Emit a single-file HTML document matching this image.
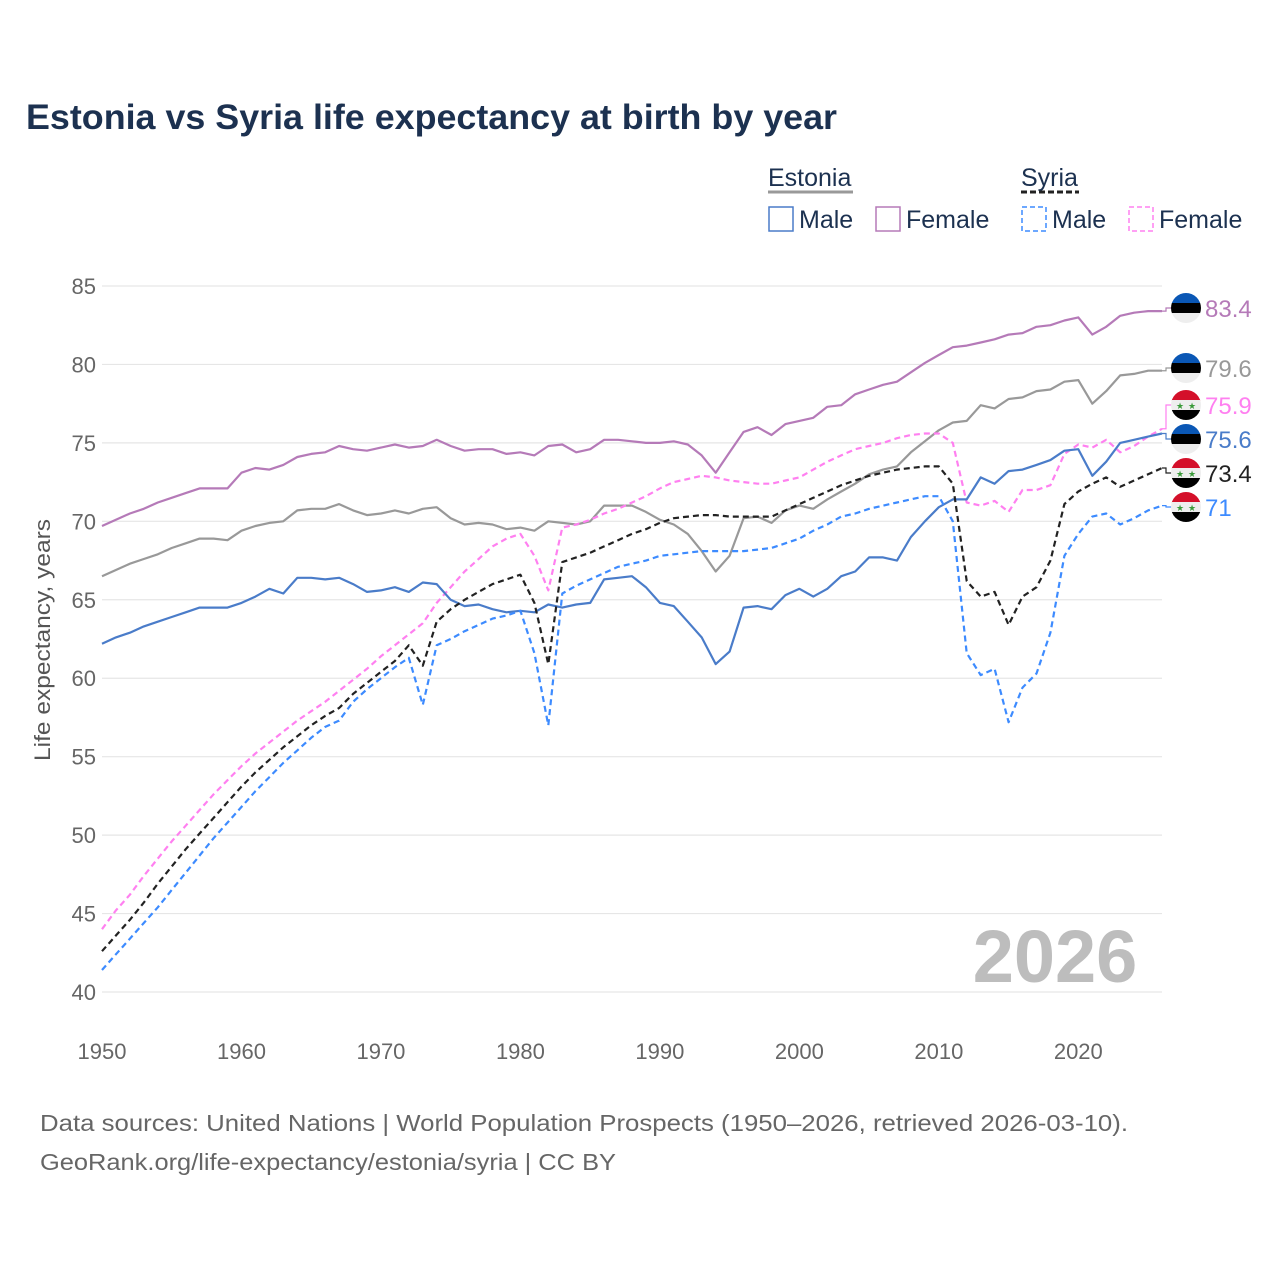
<!DOCTYPE html>
<html><head><meta charset="utf-8">
<style>
body{margin:0;background:#fff;font-family:"Liberation Sans",sans-serif;}
svg text{font-family:"Liberation Sans",sans-serif;}
</style></head>
<body>
<svg id="chart" width="1280" height="1280" xmlns="http://www.w3.org/2000/svg">
<rect width="1280" height="1280" fill="#fff"/>
<text x="26" y="129" font-size="35" font-weight="bold" fill="#1c3150" textLength="811" lengthAdjust="spacingAndGlyphs">Estonia vs Syria life expectancy at birth by year</text>
<g font-size="25" fill="#1c3150">
<text x="768" y="186" fill="#1c3150">Estonia</text>
<line x1="768" y1="192" x2="853" y2="192" stroke="#999" stroke-width="3"/>
<text x="1021" y="186" fill="#1c3150">Syria</text>
<line x1="1021" y1="192" x2="1079" y2="192" stroke="#222" stroke-width="3" stroke-dasharray="6,3"/>
<g><rect x="769" y="207" width="24" height="24" fill="none" stroke="#4a7cc9" stroke-width="1.5"/><text x="799" y="228">Male</text></g>
<g><rect x="876" y="207" width="24" height="24" fill="none" stroke="#b57ab8" stroke-width="1.5"/><text x="906" y="228">Female</text></g>
<g><rect x="1022" y="207" width="24" height="24" fill="none" stroke="#3d8bff" stroke-width="1.5" stroke-dasharray="5,3"/><text x="1052" y="228">Male</text></g>
<g><rect x="1129" y="207" width="24" height="24" fill="none" stroke="#ff80f0" stroke-width="1.5" stroke-dasharray="5,3"/><text x="1159" y="228">Female</text></g>
</g>
<g id="grid"></g>
<text x="1055" y="982" font-size="74" font-weight="bold" fill="#bdbdbd" text-anchor="middle">2026</text>
<g id="series"></g>
<g id="labels"></g>
<text transform="translate(50,640) rotate(-90)" font-size="22" fill="#555" text-anchor="middle" textLength="242" lengthAdjust="spacingAndGlyphs">Life expectancy, years</text>
<text x="40" y="1131" font-size="23" fill="#666" textLength="1088" lengthAdjust="spacingAndGlyphs">Data sources: United Nations | World Population Prospects (1950–2026, retrieved 2026-03-10).</text>
<text x="40" y="1170" font-size="23" fill="#666" textLength="576" lengthAdjust="spacingAndGlyphs">GeoRank.org/life-expectancy/estonia/syria | CC BY</text>
</svg>
<script>
const years=[];for(let y=1950;y<=2026;y++)years.push(y);
const yTicks=[40,45,50,55,60,65,70,75,80,85];
const xTicks=[1950,1960,1970,1980,1990,2000,2010,2020];
const estoniaFemale=[69.7,70.1,70.5,70.8,71.2,71.5,71.8,72.1,72.1,72.1,73.1,73.4,73.3,73.6,74.1,74.3,74.4,74.8,74.6,74.5,74.7,74.9,74.7,74.8,75.2,74.8,74.5,74.6,74.6,74.3,74.4,74.2,74.8,74.9,74.4,74.6,75.2,75.2,75.1,75.0,75.0,75.1,74.9,74.2,73.1,74.4,75.7,76.0,75.5,76.2,76.4,76.6,77.3,77.4,78.1,78.4,78.7,78.9,79.5,80.1,80.6,81.1,81.2,81.4,81.6,81.9,82.0,82.4,82.5,82.8,83.0,81.9,82.4,83.1,83.3,83.4,83.4];
const estoniaTotal=[66.5,66.9,67.3,67.6,67.9,68.3,68.6,68.9,68.9,68.8,69.4,69.7,69.9,70.0,70.7,70.8,70.8,71.1,70.7,70.4,70.5,70.7,70.5,70.8,70.9,70.2,69.8,69.9,69.8,69.5,69.6,69.4,70.0,69.9,69.8,70.0,71.0,71.0,71.0,70.6,70.1,69.8,69.2,68.1,66.8,67.8,70.2,70.3,69.9,70.7,71.0,70.8,71.4,71.9,72.4,73.0,73.3,73.5,74.4,75.1,75.8,76.3,76.4,77.4,77.2,77.8,77.9,78.3,78.4,78.9,79.0,77.5,78.3,79.3,79.4,79.6,79.6];
const estoniaMale=[62.2,62.6,62.9,63.3,63.6,63.9,64.2,64.5,64.5,64.5,64.8,65.2,65.7,65.4,66.4,66.4,66.3,66.4,66.0,65.5,65.6,65.8,65.5,66.1,66.0,65.0,64.6,64.7,64.4,64.2,64.3,64.2,64.7,64.5,64.7,64.8,66.3,66.4,66.5,65.8,64.8,64.6,63.6,62.6,60.9,61.7,64.5,64.6,64.4,65.3,65.7,65.2,65.7,66.5,66.8,67.7,67.7,67.5,69.0,70.0,70.9,71.4,71.4,72.8,72.4,73.2,73.3,73.6,73.9,74.5,74.6,72.9,73.8,75.0,75.2,75.4,75.6];
const syriaFemale=[44.0,45.2,46.2,47.4,48.5,49.6,50.6,51.6,52.6,53.5,54.4,55.2,55.9,56.6,57.3,57.9,58.5,59.2,59.9,60.6,61.4,62.1,62.8,63.5,64.8,65.8,66.8,67.6,68.4,68.9,69.2,67.8,65.6,69.6,69.8,70.1,70.5,70.8,71.2,71.6,72.1,72.5,72.7,72.9,72.8,72.6,72.5,72.4,72.4,72.6,72.8,73.3,73.8,74.2,74.6,74.8,75.0,75.3,75.5,75.6,75.6,75.0,71.2,71.0,71.3,70.6,72.0,72.0,72.3,74.3,74.9,74.7,75.2,74.4,74.8,75.4,75.9];
const syriaTotal=[42.6,43.6,44.6,45.7,46.9,48.0,49.1,50.1,51.1,52.1,53.1,54.0,54.8,55.6,56.3,57.0,57.6,58.1,59.0,59.7,60.4,61.1,62.1,60.8,63.6,64.4,65.0,65.5,66.0,66.3,66.6,64.8,60.9,67.4,67.7,68.0,68.4,68.8,69.2,69.5,69.9,70.2,70.3,70.4,70.4,70.3,70.3,70.3,70.3,70.7,71.1,71.5,71.9,72.3,72.6,72.9,73.1,73.3,73.4,73.5,73.5,72.4,66.2,65.2,65.5,63.4,65.2,65.8,67.5,71.1,71.9,72.4,72.8,72.2,72.6,73.0,73.4];
const syriaMale=[41.4,42.4,43.4,44.4,45.4,46.5,47.6,48.7,49.8,50.8,51.8,52.8,53.7,54.6,55.4,56.2,56.9,57.3,58.5,59.3,60.0,60.7,61.3,58.3,62.1,62.5,63.0,63.4,63.8,64.0,64.3,61.6,57.0,65.4,65.9,66.3,66.7,67.1,67.3,67.5,67.8,67.9,68.0,68.1,68.1,68.1,68.1,68.2,68.3,68.6,68.9,69.4,69.8,70.3,70.5,70.8,71.0,71.2,71.4,71.6,71.6,70.0,61.6,60.2,60.6,57.2,59.4,60.3,62.9,67.8,69.2,70.3,70.5,69.8,70.2,70.7,71.0];
const endLabels=["83.4","79.6","75.9","75.6","73.4","71"];

const NS="http://www.w3.org/2000/svg";
const X0=102,X1=1162,Y0=992,Y1=286;
const xs=y=>X0+(y-1950)/(2026-1950)*(X1-X0);
const ys=v=>Y0-(v-40)/(85-40)*(Y0-Y1);
function mk(tag,attrs,parent){const e=document.createElementNS(NS,tag);for(const k in attrs)e.setAttribute(k,attrs[k]);parent.appendChild(e);return e;}
const grid=document.getElementById('grid');
yTicks.forEach(t=>{
 const l=mk('line',{x1:X0,x2:X1,y1:ys(t),y2:ys(t),stroke:'#e6e6e6','stroke-width':1.2},grid);
 
 
 const tx=mk('text',{x:96,y:ys(t)+8,'font-size':22,fill:'#666','text-anchor':'end'},grid);
 tx.textContent=t;
 
 
});
xTicks.forEach(t=>{
 const tx=mk('text',{x:xs(t),y:1059,'font-size':22,fill:'#666','text-anchor':'middle'},grid);
 tx.textContent=t;
 
 
});
const series=[
 {d:estoniaFemale,c:'#b57ab8',dash:null,n:'estonia-female-line',ly:308,flag:'ee'},
 {d:estoniaTotal,c:'#999999',dash:null,n:'estonia-total-line',ly:368,flag:'ee'},
 {d:syriaFemale,c:'#ff80f0',dash:'6,4',n:'syria-female-line',ly:405,flag:'sy'},
 {d:estoniaMale,c:'#4a7cc9',dash:null,n:'estonia-male-line',ly:439,flag:'ee'},
 {d:syriaTotal,c:'#222222',dash:'6,4',n:'syria-total-line',ly:473,flag:'sy'},
 {d:syriaMale,c:'#3d8bff',dash:'6,4',n:'syria-male-line',ly:507,flag:'sy'}
];
const sg=document.getElementById('series'),lg=document.getElementById('labels');
series.forEach((s,i)=>{
 const pts=s.d.map((v,j)=>xs(years[j]).toFixed(1)+','+ys(v).toFixed(1)).join(' ');
 const a={points:pts,fill:'none',stroke:s.c,'stroke-width':2.2,'stroke-linejoin':'round'};
 if(s.dash)a['stroke-dasharray']=s.dash;
 const p=mk('polyline',a,sg);
 
 
 const ey=ys(s.d[s.d.length-1]);
 const c=mk('polyline',{points:`${X1},${ey} ${X1+4},${ey} ${X1+4},${s.ly} ${X1+10},${s.ly}`,fill:'none',stroke:s.c,'stroke-width':1.2},lg);
 
 
 const g=mk('g',{},lg);
 
 
 const cx=1186,cy=s.ly,r=15;
 const clip=mk('clipPath',{id:'cl'+i},g);mk('circle',{cx,cy,r},clip);
 const cols=s.flag==='ee'?['#0a57b5','#000','#eee']:['#d4102a','#eee','#000'];
 cols.forEach((col,k)=>mk('rect',{x:cx-r,y:cy-r+k*(2*r/3),width:2*r,height:2*r/3+0.5,fill:col,'clip-path':`url(#cl${i})`},g));
 if(s.flag==='sy'){[-6,6].forEach(dx=>{const st=mk('text',{x:cx+dx,y:cy+4,'font-size':9,fill:'#3a9a3a','text-anchor':'middle'},g);st.textContent='★';});}
 const t=mk('text',{x:1205,y:s.ly+9,'font-size':24,fill:s.c==='#222222'?'#222':s.c},lg);
 t.textContent=endLabels[i];
 
 
});
</script>
</body></html>
